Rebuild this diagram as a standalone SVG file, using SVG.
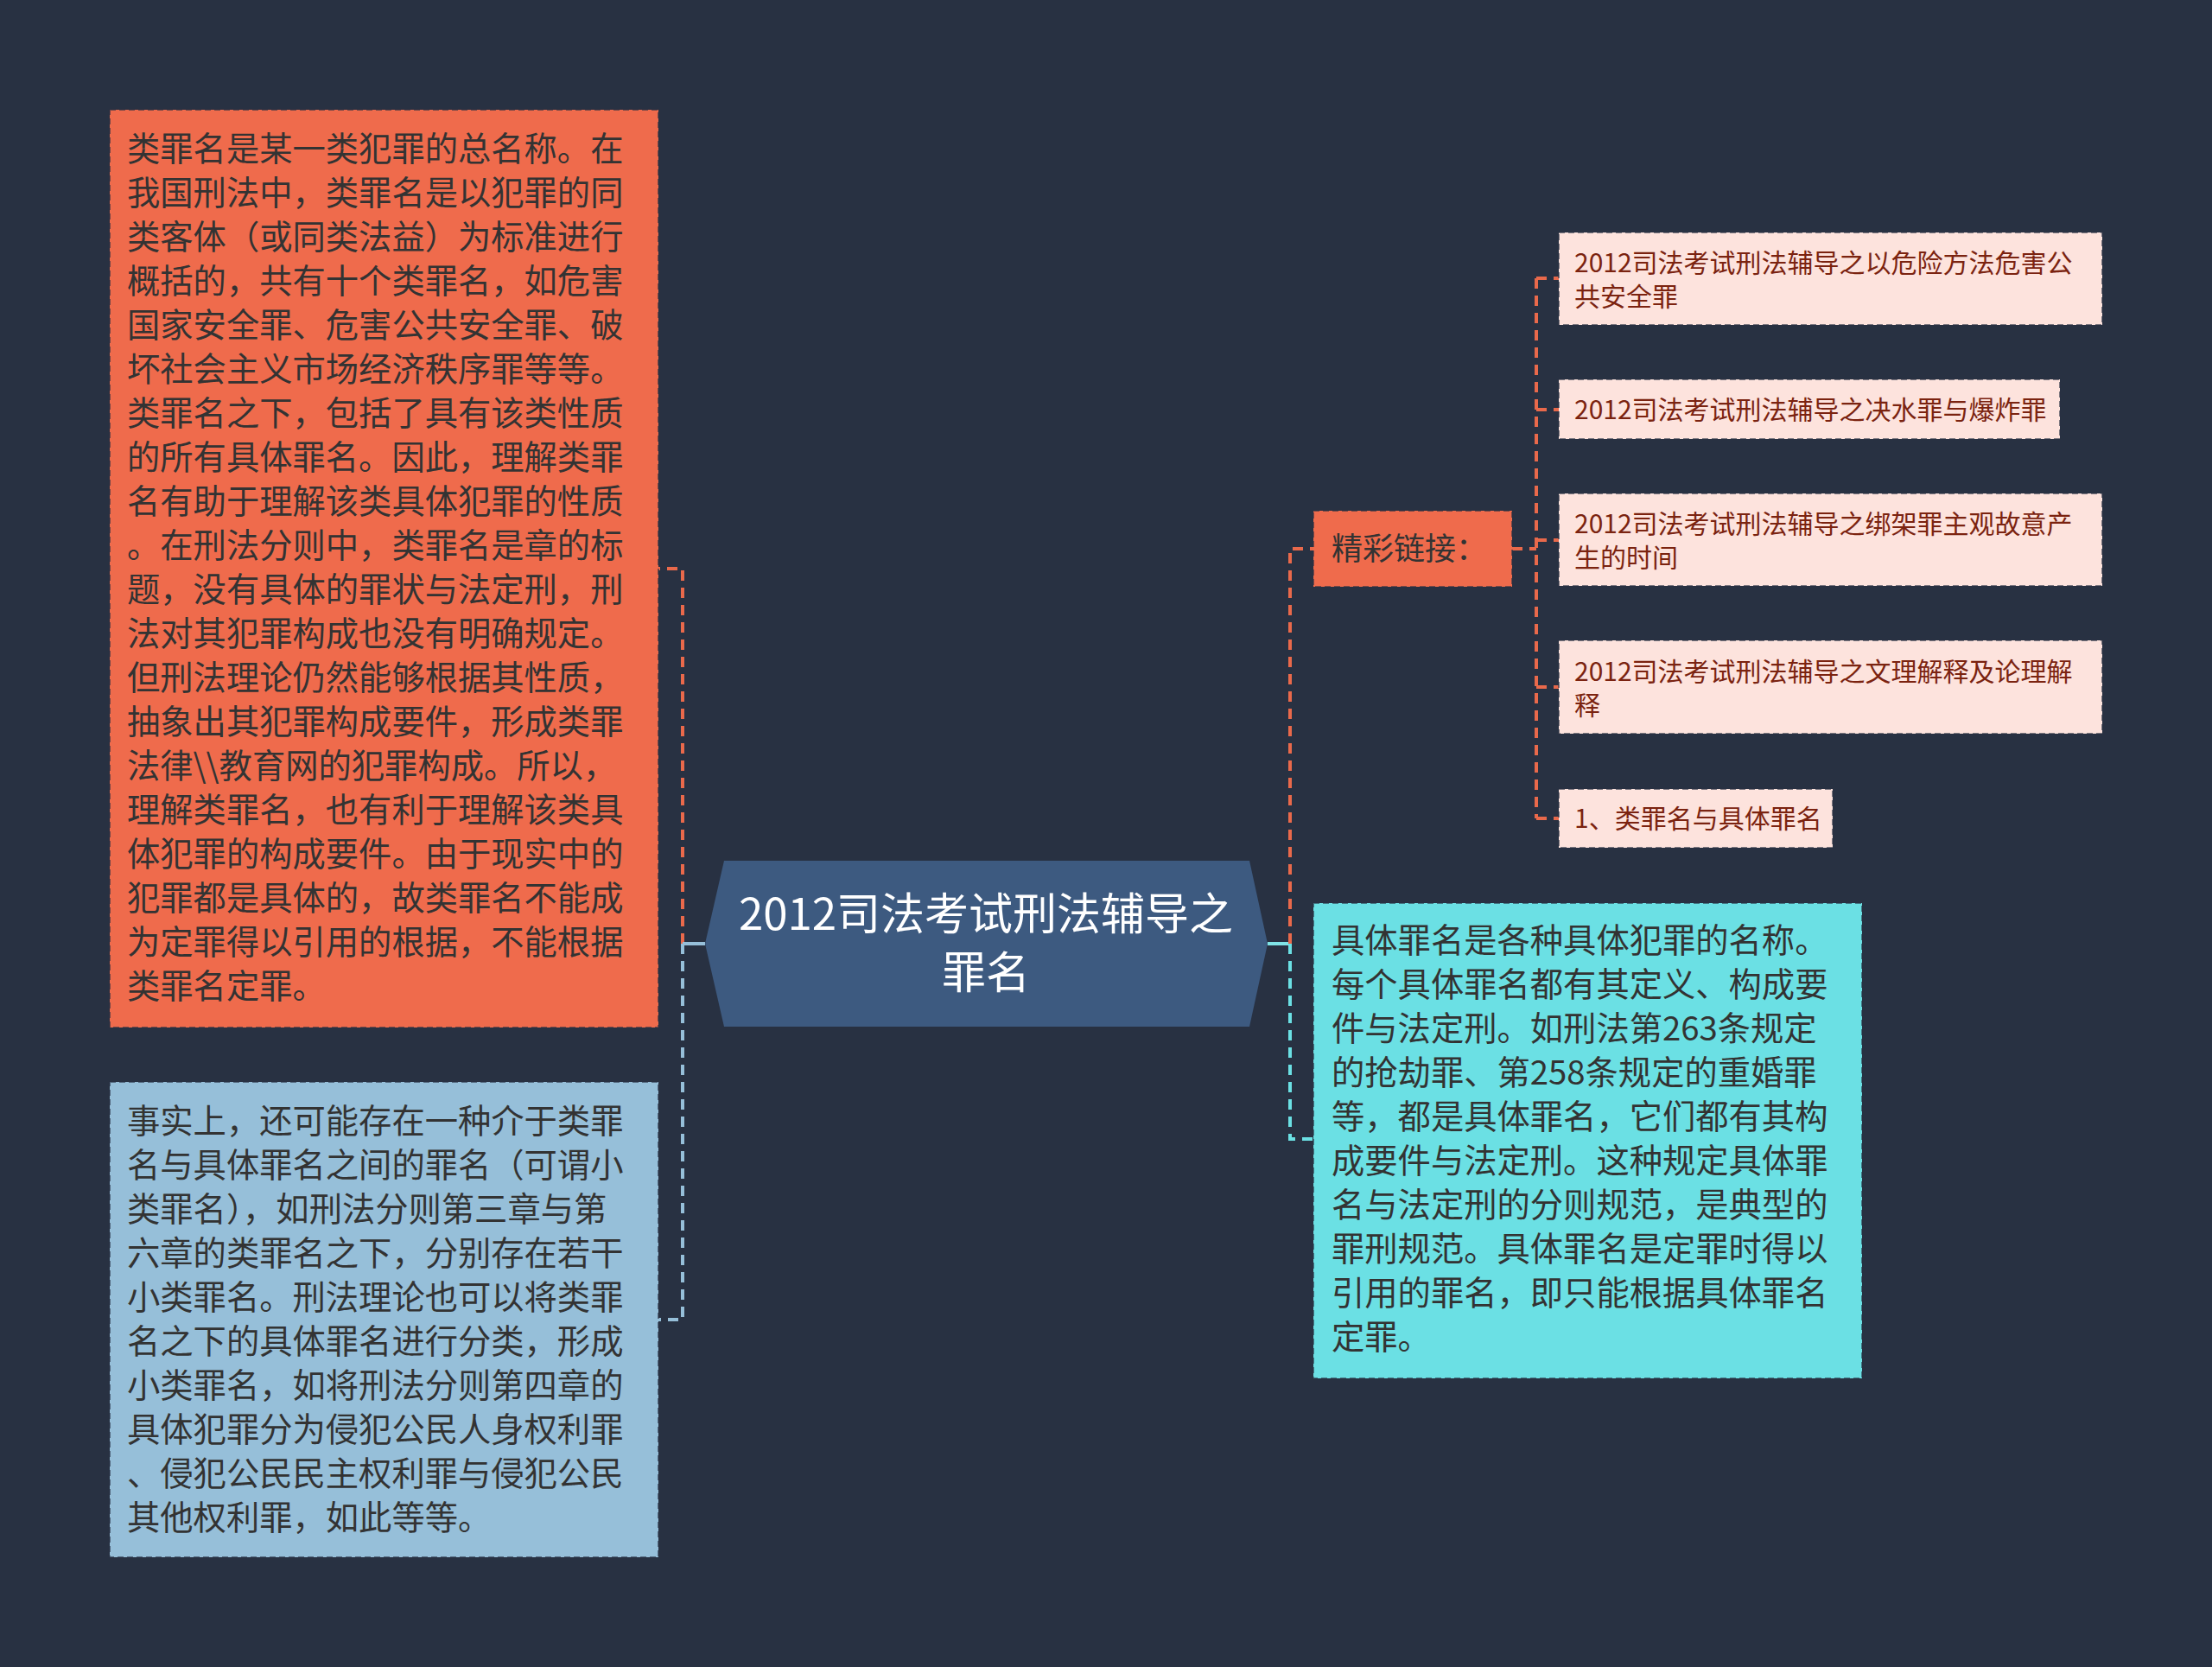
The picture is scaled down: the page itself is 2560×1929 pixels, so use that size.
<svg xmlns="http://www.w3.org/2000/svg" width="2560" height="1929" viewBox="0 0 2560 1929">
<style>
.t{font-family:"Noto Sans CJK SC","Noto Sans",sans-serif;}
.big{font-size:38.3px;fill:#333333;}
.lnk{font-size:30px;fill:#7B2310;}
.box{stroke:#283142;stroke-opacity:0.6;stroke-width:2;stroke-dasharray:7 4;}
.co{fill:none;stroke:#E9694B;stroke-width:4;stroke-dasharray:12 8;}
.cb{fill:none;stroke:#96BFD9;stroke-width:4;stroke-dasharray:12 8;}
.cc{fill:none;stroke:#6BE0E4;stroke-width:4;stroke-dasharray:12 8;}
</style>
<rect width="2560" height="1929" fill="#283142"/>
<g id="connectors">
  <path class="co" d="M790,1092 V658 H762"/>
  <path class="cb" d="M790,1092 V1527 H762"/>
  <line x1="790" y1="1092" x2="816" y2="1092" stroke="#96BFD9" stroke-width="4"/>
  <line x1="1467" y1="1092" x2="1493" y2="1092" stroke="#7FE3E6" stroke-width="4"/>
  <path class="co" d="M1493,1092 V635 H1520"/>
  <path class="cc" d="M1493,1092 V1318 H1520"/>
  <path class="co" d="M1750,635 H1778"/>
  <path class="co" d="M1778,322 V947"/>
  <path class="co" d="M1778,322 H1804"/>
  <path class="co" d="M1778,474 H1804"/>
  <path class="co" d="M1778,625 H1804"/>
  <path class="co" d="M1778,795 H1804"/>
  <path class="co" d="M1778,947 H1804"/>
</g>
<g id="center">
  <polygon points="838,996 1446,996 1467,1092 1446,1188 838,1188 816,1092" fill="#3D5A80"/>
  <text class="t" x="1141" y="1076" font-size="51" fill="#ffffff" text-anchor="middle">2012司法考试刑法辅导之</text>
  <text class="t" x="1141" y="1144" font-size="51" fill="#ffffff" text-anchor="middle">罪名</text>
</g>
<g id="node-leizuiming">
  <rect class="box" x="127" y="127" width="635" height="1062" fill="#EF6B4C"/>
  <text class="t big">
    <tspan x="147" y="186">类罪名是某一类犯罪的总名称。在</tspan>
    <tspan x="147" y="237">我国刑法中，类罪名是以犯罪的同</tspan>
    <tspan x="147" y="288">类客体（或同类法益）为标准进行</tspan>
    <tspan x="147" y="339">概括的，共有十个类罪名，如危害</tspan>
    <tspan x="147" y="390">国家安全罪、危害公共安全罪、破</tspan>
    <tspan x="147" y="441">坏社会主义市场经济秩序罪等等。</tspan>
    <tspan x="147" y="492">类罪名之下，包括了具有该类性质</tspan>
    <tspan x="147" y="543">的所有具体罪名。因此，理解类罪</tspan>
    <tspan x="147" y="594">名有助于理解该类具体犯罪的性质</tspan>
    <tspan x="147" y="645">。在刑法分则中，类罪名是章的标</tspan>
    <tspan x="147" y="696">题，没有具体的罪状与法定刑，刑</tspan>
    <tspan x="147" y="747">法对其犯罪构成也没有明确规定。</tspan>
    <tspan x="147" y="798">但刑法理论仍然能够根据其性质，</tspan>
    <tspan x="147" y="849">抽象出其犯罪构成要件，形成类罪</tspan>
    <tspan x="147" y="900">法律\\教育网的犯罪构成。所以，</tspan>
    <tspan x="147" y="951">理解类罪名，也有利于理解该类具</tspan>
    <tspan x="147" y="1002">体犯罪的构成要件。由于现实中的</tspan>
    <tspan x="147" y="1053">犯罪都是具体的，故类罪名不能成</tspan>
    <tspan x="147" y="1104">为定罪得以引用的根据，不能根据</tspan>
    <tspan x="147" y="1155">类罪名定罪。</tspan>
  </text>
</g>
<g id="node-xiaoleizuiming">
  <rect class="box" x="127" y="1252" width="635" height="550" fill="#96BFD9"/>
  <text class="t big">
    <tspan x="147" y="1311">事实上，还可能存在一种介于类罪</tspan>
    <tspan x="147" y="1362">名与具体罪名之间的罪名（可谓小</tspan>
    <tspan x="147" y="1413">类罪名），如刑法分则第三章与第</tspan>
    <tspan x="147" y="1464">六章的类罪名之下，分别存在若干</tspan>
    <tspan x="147" y="1515">小类罪名。刑法理论也可以将类罪</tspan>
    <tspan x="147" y="1566">名之下的具体罪名进行分类，形成</tspan>
    <tspan x="147" y="1617">小类罪名，如将刑法分则第四章的</tspan>
    <tspan x="147" y="1668">具体犯罪分为侵犯公民人身权利罪</tspan>
    <tspan x="147" y="1719">、侵犯公民民主权利罪与侵犯公民</tspan>
    <tspan x="147" y="1770">其他权利罪，如此等等。</tspan>
  </text>
</g>
<g id="node-links">
  <rect class="box" x="1520" y="591" width="230" height="88" fill="#EF6B4C"/>
  <text class="t" x="1541" y="648" font-size="36" fill="#333333">精彩链接：</text>
</g>
<g id="node-link1">
  <rect class="box" x="1804" y="269" width="629" height="107" fill="#FDE3DD"/>
  <text class="t lnk"><tspan x="1822" y="315">2012司法考试刑法辅导之以危险方法危害公</tspan><tspan x="1822" y="354">共安全罪</tspan></text>
</g>
<g id="node-link2">
  <rect class="box" x="1804" y="439" width="580" height="69" fill="#FDE3DD"/>
  <text class="t lnk" x="1822" y="485">2012司法考试刑法辅导之决水罪与爆炸罪</text>
</g>
<g id="node-link3">
  <rect class="box" x="1804" y="571" width="629" height="107" fill="#FDE3DD"/>
  <text class="t lnk"><tspan x="1822" y="617">2012司法考试刑法辅导之绑架罪主观故意产</tspan><tspan x="1822" y="656">生的时间</tspan></text>
</g>
<g id="node-link4">
  <rect class="box" x="1804" y="741" width="629" height="108" fill="#FDE3DD"/>
  <text class="t lnk"><tspan x="1822" y="788">2012司法考试刑法辅导之文理解释及论理解</tspan><tspan x="1822" y="827">释</tspan></text>
</g>
<g id="node-link5">
  <rect class="box" x="1804" y="913" width="317" height="68" fill="#FDE3DD"/>
  <text class="t lnk" x="1822" y="958">1、类罪名与具体罪名</text>
</g>
<g id="node-juti">
  <rect class="box" x="1520" y="1045" width="635" height="550" fill="#6BE0E4"/>
  <text class="t big">
    <tspan x="1541" y="1102">具体罪名是各种具体犯罪的名称。</tspan>
    <tspan x="1541" y="1153">每个具体罪名都有其定义、构成要</tspan>
    <tspan x="1541" y="1204">件与法定刑。如刑法第263条规定</tspan>
    <tspan x="1541" y="1255">的抢劫罪、第258条规定的重婚罪</tspan>
    <tspan x="1541" y="1306">等，都是具体罪名，它们都有其构</tspan>
    <tspan x="1541" y="1357">成要件与法定刑。这种规定具体罪</tspan>
    <tspan x="1541" y="1408">名与法定刑的分则规范，是典型的</tspan>
    <tspan x="1541" y="1459">罪刑规范。具体罪名是定罪时得以</tspan>
    <tspan x="1541" y="1510">引用的罪名，即只能根据具体罪名</tspan>
    <tspan x="1541" y="1561">定罪。</tspan>
  </text>
</g>
</svg>
